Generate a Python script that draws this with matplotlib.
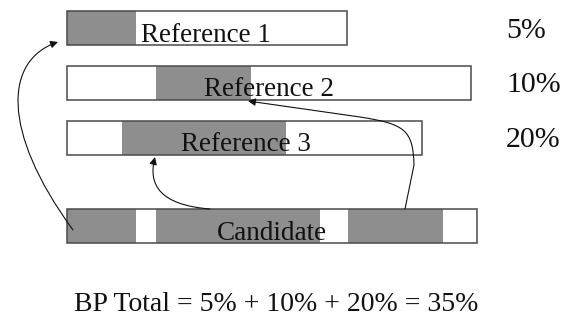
import matplotlib
matplotlib.use('Agg')
import matplotlib.pyplot as plt
from matplotlib.patches import FancyArrowPatch
from matplotlib.path import Path

# Sequences (pixel scale of the drawing, y grows downwards)
names = ['Reference 1', 'Reference 2', 'Reference 3', 'Candidate']
row_y = [27.8, 82.7, 137.8, 225.8]
seq_end = [347, 470.5, 422, 477]
seq_start = 67

# matched (shaded) n-gram segments per sequence: (start, end)
matches = [
    [(67, 135.5)],
    [(156, 251)],
    [(122, 286)],
    [(67, 135.5), (156, 319.5), (348, 442.5)],
]

# text inside boxes: centre x, baseline y
label_x = [206, 269, 245.5, 271.5]
label_base = [41.7, 95.7, 150.7, 240]

# precision per reference
percents = ['5%', '10%', '20%']
total_text = 'BP Total = 5% + 10% + 20% = 35%'

# connectors from candidate segments up to the references
links = [
    ([(73, 230), (0, 130), (5, 60), (58, 42)],
     [Path.MOVETO, Path.CURVE4, Path.CURVE4, Path.CURVE4]),
    ([(210, 209), (160, 205), (148, 185), (155, 157)],
     [Path.MOVETO, Path.CURVE4, Path.CURVE4, Path.CURVE4]),
    ([(405, 209), (414, 165), (413, 130), (405, 124), (360, 117), (248, 101)],
     [Path.MOVETO, Path.LINETO, Path.CURVE4, Path.CURVE4, Path.CURVE4, Path.LINETO]),
]

fig = plt.figure(figsize=(5.65, 3.18), dpi=100)
ax = fig.add_axes([0, 0, 1, 1])
ax.set_xlim(0, 565)
ax.set_ylim(318, 0)
ax.axis('off')

bar_h = 34
edge = '#4a4a4a'
shade = '#8e8e8e'
serif = 'Liberation Serif'

for i, name in enumerate(names):
    w = seq_end[i] - seq_start
    ax.barh(row_y[i], w, left=seq_start, height=bar_h, color='white',
            edgecolor='none', zorder=1)
    for s, e in matches[i]:
        ax.barh(row_y[i], e - s, left=s, height=bar_h, color=shade,
                edgecolor='none', zorder=2)
    ax.barh(row_y[i], w, left=seq_start, height=bar_h, fill=False,
            edgecolor=edge, linewidth=1.1, zorder=3)
    ax.text(label_x[i], label_base[i], name, ha='center', va='baseline',
            fontsize=19.5, family=serif, color='#111111', zorder=4)

for i, p in enumerate(percents):
    ax.text(506, label_base[i] - 4, p, ha='left', va='baseline',
            fontsize=21.5, family=serif, color='#111111')

ax.text(276, 311, total_text, ha='center', va='baseline',
        fontsize=20, family=serif, color='#111111')

for verts, codes in links:
    arr = FancyArrowPatch(path=Path(verts, codes), arrowstyle='-|>',
                          mutation_scale=11, linewidth=0.8, color='#111111',
                          zorder=5)
    ax.add_patch(arr)

fig.savefig('out.png', dpi=100)
